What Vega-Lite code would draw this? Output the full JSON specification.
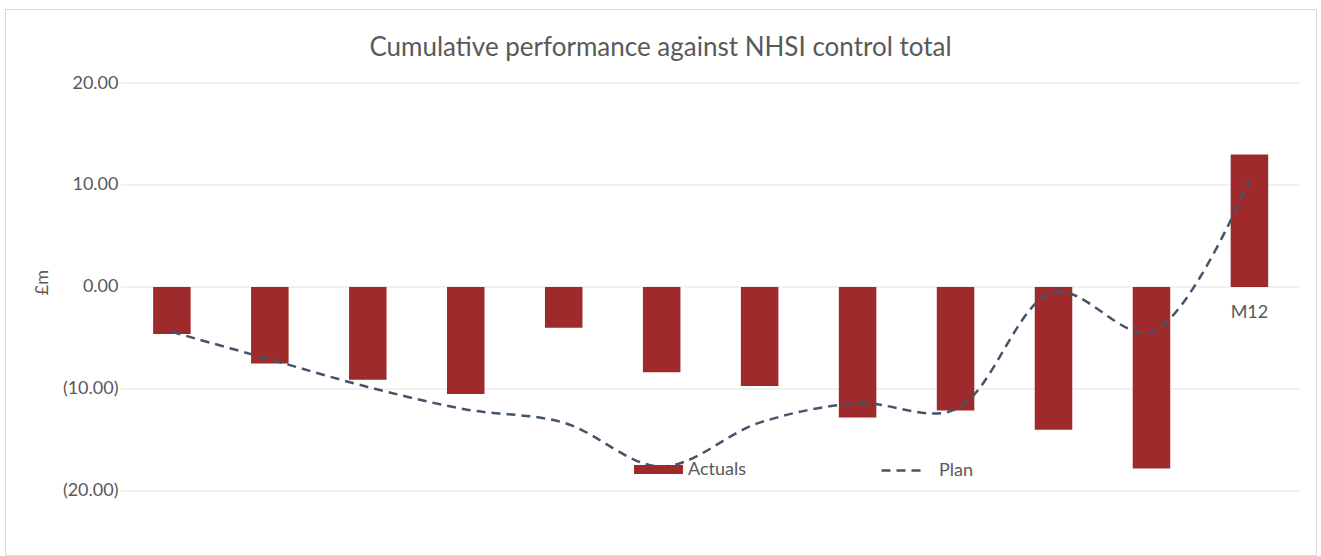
{
  "$schema": "https://vega.github.io/schema/vega-lite/v6.json",
  "autosize": "none",
  "width": 1311,
  "height": 546,
  "padding": {"left": 5, "top": 9, "right": 5, "bottom": 1},
  "background": "#ffffff",
  "config": {
    "font": "Lato",
    "view": {"stroke": "#d9d9d9", "strokeWidth": 1}
  },
  "title": {
    "text": "Cumulative performance against NHSI control total",
    "fontSize": 26,
    "fontWeight": "normal",
    "color": "#595959",
    "anchor": "middle",
    "offset": -52
  },
  "datasets": {
    "months": [
      {"month": "M1", "actual": -4.6, "plan": -4.4},
      {"month": "M2", "actual": -7.5, "plan": -7.1},
      {"month": "M3", "actual": -9.1, "plan": -9.8},
      {"month": "M4", "actual": -10.5, "plan": -12.0},
      {"month": "M5", "actual": -4.0, "plan": -13.3},
      {"month": "M6", "actual": -8.35, "plan": -17.6},
      {"month": "M7", "actual": -9.7, "plan": -13.3},
      {"month": "M8", "actual": -12.8, "plan": -11.4},
      {"month": "M9", "actual": -12.1, "plan": -12.0},
      {"month": "M10", "actual": -14.0, "plan": -0.5},
      {"month": "M11", "actual": -17.8, "plan": -4.4},
      {"month": "M12", "actual": 13.0, "plan": 10.5}
    ],
    "grid": [{"v": -20}, {"v": -10}, {"v": 0}, {"v": 10}, {"v": 20}]
  },
  "encoding": {
    "x": {
      "field": "month",
      "type": "nominal",
      "sort": null,
      "axis": null,
      "scale": {
        "domain": ["M1", "M2", "M3", "M4", "M5", "M6", "M7", "M8", "M9", "M10", "M11", "M12"],
        "paddingInner": 0.617,
        "paddingOuter": 1.094,
        "align": 0.756
      }
    }
  },
  "layer": [
    {
      "data": {"name": "grid"},
      "mark": {"type": "rule", "stroke": "#e3e3e3", "strokeWidth": 1},
      "encoding": {
        "x": {"datum": "M1", "type": "nominal", "bandPosition": -0.857},
        "x2": {"datum": "M12", "bandPosition": 1.857},
        "y": {
          "field": "v",
          "type": "quantitative",
          "scale": {"domain": [-26.275, 27.255], "nice": false, "zero": false},
          "axis": {
            "orient": "left",
            "offset": -127,
            "values": [-20, -10, 0, 10, 20],
            "grid": false,
            "domain": false,
            "ticks": false,
            "labelPadding": 14,
            "labelFontSize": 18,
            "labelColor": "#595959",
            "labelExpr": "datum.value < 0 ? '(' + format(-datum.value, '.2f') + ')' : format(datum.value, '.2f')",
            "title": "£m",
            "titleFontSize": 18,
            "titleFontWeight": "normal",
            "titleColor": "#595959",
            "titlePadding": 11
          }
        }
      }
    },
    {
      "data": {"name": "months"},
      "mark": {"type": "text", "fontSize": 18, "color": "#595959", "baseline": "middle", "dy": 26},
      "encoding": {
        "y": {"datum": 0, "type": "quantitative"},
        "text": {"field": "month"}
      }
    },
    {
      "data": {"name": "months"},
      "mark": {"type": "bar"},
      "encoding": {
        "y": {"field": "actual", "type": "quantitative"},
        "y2": {"datum": 0},
        "fill": {
          "datum": "Actuals",
          "type": "nominal",
          "scale": {"range": ["#9e2a2b"]},
          "legend": {
            "title": null,
            "orient": "none",
            "legendX": 629,
            "legendY": 436,
            "padding": 0,
            "symbolType": "M-1,-0.184L1,-0.184L1,0.184L-1,0.184Z",
            "symbolSize": 2401,
            "symbolStrokeWidth": 0,
            "labelFontSize": 18,
            "labelColor": "#595959",
            "labelOffset": 5
          }
        }
      }
    },
    {
      "data": {"name": "months"},
      "mark": {"type": "line", "interpolate": "catmull-rom", "stroke": "#44546a", "strokeWidth": 2.5},
      "encoding": {
        "y": {"field": "plan", "type": "quantitative"},
        "strokeDash": {
          "datum": "Plan",
          "type": "nominal",
          "scale": {"range": [[9, 6]]},
          "legend": {
            "title": null,
            "orient": "none",
            "legendX": 875,
            "legendY": 440,
            "padding": 0,
            "symbolType": "stroke",
            "symbolSize": 1600,
            "symbolStrokeColor": "#44546a",
            "symbolStrokeWidth": 2.5,
            "labelFontSize": 18,
            "labelColor": "#595959",
            "labelOffset": 16
          }
        }
      }
    }
  ]
}
